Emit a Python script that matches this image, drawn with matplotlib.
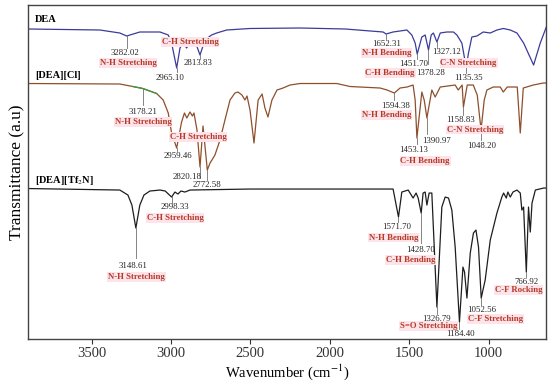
import numpy as np
import matplotlib
matplotlib.use("Agg")
from matplotlib import pyplot as plt

plt.rcParams['font.family'] = ['Liberation Serif', 'DejaVu Serif']
plt.rcParams['mathtext.fontset'] = 'stix'

# ---- spectra (wavenumber cm-1, transmittance a.u.) ----
dea_wn = [3900, 3448, 3322, 3279, 3196, 3069, 3017, 2996, 2964, 2943, 2924, 2901,
          2880, 2861, 2849, 2817, 2796, 2786, 2744, 2712, 2649, 2502, 2187, 1903,
          1664, 1645, 1601, 1514, 1483, 1462, 1449, 1420, 1399, 1378, 1361, 1347,
          1325, 1304, 1262, 1221, 1199, 1168, 1141, 1126, 1105, 1073, 1033, 989,
          947, 907, 863, 821, 779, 716, 674, 636]
dea_t = [311, 310, 307, 304, 308, 308, 305, 297, 272, 292, 297, 292,
         298, 295, 299, 285, 295, 300, 305, 307, 310, 311.5, 312, 311,
         308, 306, 308, 310, 305, 297, 286, 303, 305, 290, 305, 307,
         298, 307, 308, 308, 305, 297, 273, 287, 303, 304, 308, 307,
         310, 311.5, 310, 307, 297, 275, 297, 313]

cl_wn = [3900, 3322, 3240, 3177, 3090, 3049, 3017, 2996, 2964, 2933, 2915, 2900,
         2880, 2865, 2855, 2836, 2817, 2798, 2771, 2754, 2742, 2723, 2691, 2660,
         2628, 2597, 2578, 2553, 2534, 2521, 2502, 2477, 2451, 2426, 2408, 2389,
         2364, 2332, 2294, 2250, 2187, 1956, 1872, 1683, 1639, 1593, 1557, 1513,
         1475, 1462, 1451, 1420, 1405, 1388, 1357, 1336, 1304, 1210, 1191, 1166,
         1158, 1134, 1096, 1071, 1047, 1027, 1010, 970, 926, 907, 882, 819,
         800, 781, 718, 655, 636]
cl_t = [256.5, 256, 253.5, 251.5, 246.5, 240, 227, 207, 192, 218, 227, 222,
        228, 224, 227, 210, 173, 214, 170, 177, 180, 185, 200, 220,
        240, 247, 248, 245, 240, 244, 230, 197, 240, 246, 232, 223,
        240, 250, 252, 255, 256.5, 256.5, 253.5, 252, 250, 247, 252, 253,
        255, 240, 202, 248, 240, 222, 250, 243, 253, 255, 250, 255,
        233, 255, 255, 245, 210, 240, 250, 253, 253, 248, 253, 253,
        207, 252, 255, 257, 257]

tf_wn = [3900, 3322, 3271, 3246, 3221, 3196, 3170, 3133, 3069, 3036, 2996, 2975,
         2956, 2937, 2912, 2880, 2500, 2000, 1601, 1567, 1546, 1506, 1475, 1456,
         1443, 1424, 1412, 1399, 1388, 1374, 1357, 1325, 1294, 1273, 1252, 1231,
         1210, 1183, 1161, 1151, 1136, 1115, 1095, 1079, 1063, 1046, 1021, 989,
         947, 916, 905, 888, 878, 863, 846, 821, 800, 790, 779, 762,
         748, 737, 726, 705, 653, 636]
tf_t = [151.5, 150, 145, 135, 112, 135, 145, 149, 150, 149, 143, 148,
        146, 149, 148, 150, 151, 151, 151, 123, 148, 150, 142, 147,
        142, 127, 147, 148, 135, 147, 147, 33, 133, 143, 142, 130,
        93, 18, 73, 68, 42, 87, 107, 110, 93, 42, 60, 100,
        127, 143, 147, 142, 148, 143, 148, 150, 147, 130, 133, 68,
        133, 108, 137, 150, 152, 152]

# labelled peaks: (peak wn, peak T, tick end T, number, number pos, group name, name pos)
dea_peaks = [
    (3279, 304, 292, "3282.02", (3290, 287), "N-H Stretching", (3271, 277)),
    (2964, 272, 268, "2965.10", (3006, 262.5), "C-H Stretching", (2880, 298)),
    (2817, 285, 281, "2813.83", (2830, 277), None, None),
    (1645, 306, 301, "1652.31", (1640, 296.5), "N-H Bending", (1640, 287)),
    (1449, 286, 281, "1451.70", (1473, 276.5), "C-H Bending", (1620, 267)),
    (1378, 290, 276, "1378.28", (1367, 267), None, None),
    (1325, 298, 293, "1327.12", (1262, 288), "C-N Stretching", (1126, 277)),
    (1141, 273, 267, "1135.35", (1126, 262.5), None, None),
]
cl_peaks = [
    (3177, 251.5, 235, "3178.21", (3177, 228), "N-H Stretching", (3175, 218)),
    (2964, 192, 189, "2959.46", (2956, 184), "C-H Stretching", (2830, 203)),
    (2817, 173, 162, "2820.18", (2901, 163), None, None),
    (2771, 170, 160, "2772.58", (2775, 155), None, None),
    (1593, 247, 240, "1594.38", (1588, 234), "N-H Bending", (1640, 225)),
    (1451, 202, 196, "1453.13", (1473, 190), "C-H Bending", (1399, 179)),
    (1388, 222, 206, "1390.97", (1325, 199), None, None),
    (1158, 233, 225, "1158.83", (1178, 220.5), "C-N Stretching", (1084, 210.5)),
    (1047, 210, 200, "1048.20", (1042, 194), None, None),
]
tf_peaks = [
    (3221, 112, 82, "3148.61", (3242, 74), "N-H Stretching", (3216, 63)),
    (2996, 143, 137, "2998.33", (2975, 133), "C-H Stretching", (2975, 122)),
    (1567, 123, 118, "1571.70", (1577, 113), "N-H Bending", (1599, 102.5)),
    (1424, 127, 97, "1428.70", (1430, 90.5), "C-H Bending", (1493, 80)),
    (1325, 33, 26, "1326.79", (1325, 21.5), "S=O Stretching", (1378, 14)),
    (1183, 18, 11, "1184.40", (1178, 6), None, None),
    (1046, 42, 35, "1052.56", (1042, 30), "C-F Stretching", (958, 21)),
    (762, 68, 63, "766.92", (762, 58), "C-F Rocking", (811, 50)),
]

fig = plt.figure(figsize=(5.5, 3.84), dpi=100)
ax = fig.add_axes([0.051, 0.117, 0.942, 0.870])

ax.plot(dea_wn, dea_t, color='#3b3b9b', lw=0.9)
ax.plot(cl_wn, cl_t, color='#8e4f2c', lw=0.9)
cl_wn_a, cl_t_a = np.array(cl_wn), np.array(cl_t)
m = (cl_wn_a <= 3240) & (cl_wn_a >= 3090)
ax.plot(cl_wn_a[m], cl_t_a[m], color='#3d9a3d', lw=0.9)
ax.plot(tf_wn, tf_t, color='#1e1e1e', lw=0.9)

lab_col = '#b53b28'
box = dict(facecolor='#fde3ea', edgecolor='none', pad=0.6)
for peaks in (dea_peaks, cl_peaks, tf_peaks):
    for wn, t, tend, num, npos, name, pos in peaks:
        ax.plot([wn, wn], [t, tend], color='#707070', lw=0.6)
        ax.text(npos[0], npos[1], num, fontsize=6.3, ha='center', va='center', color='#222222')
        if name:
            ax.text(pos[0], pos[1], name, fontsize=6.3, fontweight='bold', ha='center',
                    va='center', color=lab_col, bbox=box)

ax.text(3857, 320, "DEA", fontsize=7.5, fontweight='bold', va='center')
ax.text(3857, 265, "[DEA][Cl]", fontsize=7.5, fontweight='bold', va='center')
ax.text(3857, 160, "[DEA][Tf$_2$N]", fontsize=7.5, fontweight='bold', va='center')

ax.set_xlim(3900, 637)
ax.set_ylim(1, 335)
ax.set_xticks([3500, 3000, 2500, 2000, 1500, 1000])
ax.set_yticks([])
ax.tick_params(axis='x', direction='out', length=3.5, width=0.8, labelsize=10.5, pad=2, colors='#333333')
for s in ax.spines.values():
    s.set_color('#444444')
    s.set_linewidth(1.0)
ax.set_xlabel('Wavenumber (cm$^{-1}$)', fontsize=10.5, labelpad=2)
ax.set_ylabel('Transmittance (a.u)', fontsize=12.5, labelpad=2)

fig.savefig("out.png", dpi=100)
